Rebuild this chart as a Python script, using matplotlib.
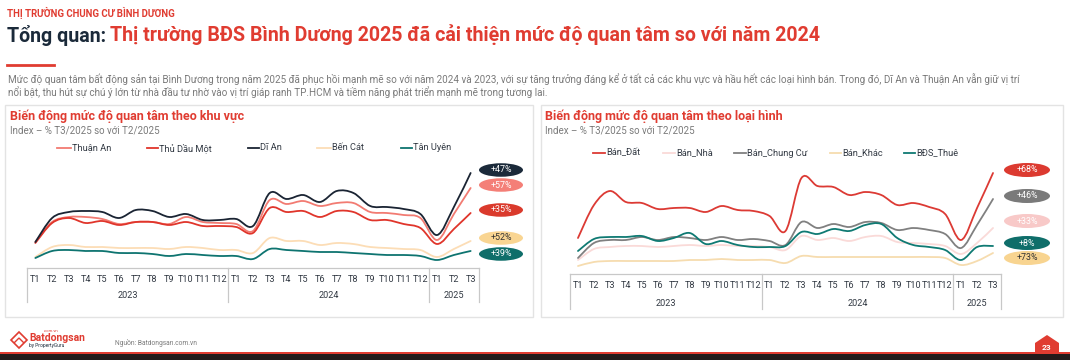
import numpy as np
import matplotlib.pyplot as plt
from matplotlib.path import Path
from matplotlib.patches import PathPatch, Ellipse, Rectangle, Polygon

plt.rcParams['font.family'] = ['Roboto', 'DejaVu Sans']

# ---- data -------------------------------------------------------------
months = ['T%d' % m for m in range(1, 13)] * 2 + ['T1', 'T2', 'T3']
years = ['2023', '2024', '2025']
year_sizes = [12, 12, 3]

# interest index by area (arbitrary index units)
area_names = ['Thuận An', 'Thủ Dầu Một', 'Dĩ An', 'Bến Cát', 'Tân Uyên']
thuan_an = [38, 58, 63, 63, 61, 56, 58, 58, 56, 63, 58, 57, 56, 49, 80, 76, 79, 74, 77, 77, 68, 67, 65, 62, 40, 66, 92]
thu_dau_mot = [37, 57, 62, 57, 59, 55, 58, 58, 55, 58, 54, 54, 53, 47, 72, 68, 69, 63, 69, 68, 60, 60, 56, 52, 36, 51, 67]
di_an = [38, 62, 68, 69, 68, 62, 70, 69, 63, 66, 60, 60, 61, 54, 87, 81, 85, 78, 89, 87, 74, 73, 71, 66, 45, 73, 107]
ben_cat = [23, 33, 35, 33, 33, 32, 32, 32, 31, 33, 32, 30, 30, 27, 42, 39, 39, 35, 37, 36, 33, 32, 31, 30, 23, 31, 39]
tan_uyen = [22, 29, 30, 29, 29, 27, 27, 26, 24, 26, 25, 24, 24, 21, 31, 30, 29, 28, 28, 27, 26, 25, 25, 24, 20, 25, 29]
area_changes = ['+57%', '+35%', '+47%', '+52%', '+39%']

# interest index by property type
type_names = ['Bán_Đất', 'Bán_Nhà', 'Bán_Chung Cư', 'Bán_Khác', 'BĐS_Thuê']
ban_dat = [42, 75, 89, 78, 77, 71, 72, 72, 68, 74, 70, 69, 64, 49, 102, 94, 93, 85, 88, 85, 75, 77, 73, 66, 40, 72, 107]
ban_nha = [20, 31, 33, 34, 34, 33, 34, 35, 34, 35, 34, 34, 33, 30, 44, 40, 42, 39, 43, 44, 38, 37, 36, 34, 26, 37, 52]
ban_chung_cu = [22, 37, 40, 40, 43, 40, 43, 42, 40, 43, 40, 41, 39, 35, 58, 52, 56, 53, 58, 57, 50, 52, 50, 46, 32, 55, 81]
ban_khac = [14, 18, 19, 19, 19, 19, 19, 20, 20, 21, 20, 20, 20, 17, 24, 23, 23, 23, 23, 23, 23, 23, 23, 22, 15, 19, 27]
bds_thue = [29, 41, 43, 43, 44, 39, 42, 47, 36, 39, 35, 33, 33, 34, 48, 46, 51, 49, 55, 56, 42, 35, 33, 30, 20, 33, 34]
type_changes = ['+68%', '+33%', '+46%', '+73%', '+8%']

# ---- figure -----------------------------------------------------------
W, H = 1070, 360
fig = plt.figure(figsize=(W / 100, H / 100), dpi=100)
bg = fig.add_axes([0, 0, 1, 1])
bg.set_xlim(0, W)
bg.set_ylim(H, 0)
bg.axis('off')

RED = '#E03C31'
NAVY = '#1B2A3A'
GRAY_TXT = '#7A7A7A'
DARK_TXT = '#333A44'


def smooth_path(xs, ys):
    pts = np.column_stack([xs, ys]).astype(float)
    n = len(pts)
    verts = [pts[0]]
    codes = [Path.MOVETO]
    for i in range(n - 1):
        p0 = pts[max(i - 1, 0)]
        p1 = pts[i]
        p2 = pts[i + 1]
        p3 = pts[min(i + 2, n - 1)]
        verts += [p1 + (p2 - p0) / 6, p2 - (p3 - p1) / 6, p2]
        codes += [Path.CURVE4] * 3
    return Path(verts, codes)


def draw_chart(left, right, top, bottom, ylim, series, colors, box_bottom, tick_y, year_y):
    ax = fig.add_axes([left / W, 1 - bottom / H, (right - left) / W, (bottom - top) / H])
    ax.set_xlim(-0.5, 26.5)
    ax.set_ylim(*ylim)
    ax.axis('off')
    x = np.arange(len(months))
    for vals, c in zip(series, colors):
        ax.add_patch(PathPatch(smooth_path(x, vals), fill=False, edgecolor=c,
                               lw=1.3, capstyle='round', joinstyle='round'))
    tr = ax.get_xaxis_transform()
    h = bottom - top

    def ay(ypix):
        return (bottom - ypix) / h

    # category box
    ax.plot([-0.5, 26.5], [0, 0], transform=tr, color='#C8C8C8', lw=0.9, clip_on=False)
    edges = np.concatenate([[0], np.cumsum(year_sizes)]) - 0.5
    for e in edges:
        ax.plot([e, e], [0, ay(box_bottom)], transform=tr, color='#C8C8C8', lw=0.9, clip_on=False)
    for i, m in enumerate(months):
        ax.text(i, ay(tick_y), m, transform=tr, ha='center', va='center',
                fontsize=6.6, color=DARK_TXT)
    for yr, a, b in zip(years, edges[:-1], edges[1:]):
        ax.text((a + b) / 2, ay(year_y), yr, transform=tr, ha='center', va='center',
                fontsize=6.6, color=DARK_TXT)
    return ax


# ---- header -----------------------------------------------------------
bg.text(7, 13, 'THỊ TRƯỜNG CHUNG CƯ BÌNH DƯƠNG', fontsize=6.9, fontweight='bold',
        color=RED, va='center')
bg.text(7, 35, 'Tổng quan:', fontsize=14.1, fontweight='bold', color=NAVY, va='center')
bg.text(110, 35, 'Thị trường BĐS Bình Dương 2025 đã cải thiện mức độ quan tâm so với năm 2024',
        fontsize=14.1, fontweight='bold', color=RED, va='center')
bg.plot([7, 54], [65, 65], color=RED, lw=2)
bg.text(8, 79, 'Mức độ quan tâm bất động sản tại Bình Dương trong năm 2025 đã phục hồi mạnh mẽ so với năm 2024 và 2023, '
        'với sự tăng trưởng đáng kể ở tất cả các khu vực và hầu hết các loại hình bán. Trong đó, Dĩ An và Thuận An vẫn giữ vị trí',
        fontsize=7.1, color=GRAY_TXT, va='center')
bg.text(8, 92, 'nổi bật, thu hút sự chú ý lớn từ nhà đầu tư nhờ vào vị trí giáp ranh TP.HCM và tiềm năng phát triển mạnh mẽ trong tương lai.',
        fontsize=7.1, color=GRAY_TXT, va='center')

# ---- panels -----------------------------------------------------------
for x0, x1 in [(5, 533), (541, 1063)]:
    bg.add_patch(Rectangle((x0, 105), x1 - x0, 212, fill=False, edgecolor='#E3E3E3', lw=1))

bg.text(10, 116, 'Biến động mức độ quan tâm theo khu vực', fontsize=9, fontweight='bold',
        color=RED, va='center')
bg.text(10, 130, 'Index – % T3/2025 so với T2/2025', fontsize=7, color=GRAY_TXT, va='center')
bg.text(545, 116, 'Biến động mức độ quan tâm theo loại hình', fontsize=9, fontweight='bold',
        color=RED, va='center')
bg.text(545, 130, 'Index – % T3/2025 so với T2/2025', fontsize=7, color=GRAY_TXT, va='center')

# left chart: by area
area_colors = ['#F27B72', '#E0352B', '#1A2433', '#FCDDB6', '#0E7470']
draw_chart(27, 479, 160, 268, (12, 120),
           [thuan_an, thu_dau_mot, di_an, ben_cat, tan_uyen], area_colors,
           box_bottom=302, tick_y=279, year_y=296)
legend_left = [(57, 72), (147, 159), (248, 260), (317, 332), (401, 413)]
for (lx, tx), name, c in zip(legend_left, area_names, area_colors):
    bg.plot([lx, tx - 1], [148, 148], color=c, lw=1.3)
    bg.text(tx, 148, name, fontsize=6.7, color=DARK_TXT, va='center')

area_pill = {'+47%': (170, '#1B2A3A', 'white'), '+57%': (185, '#F47F77', 'white'),
             '+35%': (210, '#DA3A2C', 'white'), '+52%': (238, '#F9D592', '#333333'),
             '+39%': (254, '#0F6E6A', 'white')}
for lab in area_changes:
    y, fc, tc = area_pill[lab]
    bg.add_patch(Ellipse((501, y), 44, 13.5, facecolor=fc, edgecolor='none'))
    bg.text(501, y, lab, fontsize=6.4, color=tc, ha='center', va='center')

# right chart: by property type
type_colors = ['#DC3A34', '#FADAD8', '#808080', '#F6DCAF', '#0F7A73']
draw_chart(570, 1001, 160, 274, (6, 120),
           [ban_dat, ban_nha, ban_chung_cu, ban_khac, bds_thue], type_colors,
           box_bottom=309, tick_y=285, year_y=303)
legend_right = [(593, 606), (663, 676), (734, 747), (830, 842), (904, 916)]
for (lx, tx), name, c in zip(legend_right, type_names, type_colors):
    bg.plot([lx, tx - 1], [153, 153], color=c, lw=1.3)
    bg.text(tx, 153, name, fontsize=6.7, color=DARK_TXT, va='center')

type_pill = {'+68%': (170, '#DC3A30', 'white'), '+46%': (196, '#7A7A7A', 'white'),
             '+33%': (221, '#F8C9C8', 'white'), '+8%': (243, '#0F6E6A', 'white'),
             '+73%': (258, '#F8D490', '#333333')}
for lab in type_changes:
    y, fc, tc = type_pill[lab]
    bg.add_patch(Ellipse((1027, y), 46, 14, facecolor=fc, edgecolor='none'))
    bg.text(1027, y, lab, fontsize=6.4, color=tc, ha='center', va='center')

# ---- footer -----------------------------------------------------------
bg.add_patch(Polygon([(11, 340), (19, 332), (27, 340), (19, 348)], closed=True,
                     fill=False, edgecolor=RED, lw=1.2))
bg.add_patch(Polygon([(14, 343), (19, 338), (24, 343)], closed=False,
                     fill=False, edgecolor=RED, lw=1))
bg.text(29, 338, 'Batdongsan', fontsize=7.5, fontweight='bold', color=RED, va='center')
bg.text(58, 331, '.com.vn', fontsize=3, color=RED, ha='right', va='center')
bg.text(29, 346, 'by PropertyGuru', fontsize=3.5, color=NAVY, va='center')
bg.text(115, 343, 'Nguồn: Batdongsan.com.vn', fontsize=4.8, color=GRAY_TXT, va='center')

bg.add_patch(Polygon([(1035, 353), (1035, 343), (1047, 335), (1059, 343), (1059, 353)],
                     closed=True, facecolor=RED, edgecolor='none'))
bg.text(1047, 347, '23', fontsize=6, fontweight='bold', color='white', ha='center', va='center')
bg.add_patch(Rectangle((0, 351.5), W, 2, facecolor=RED, edgecolor='none'))
bg.add_patch(Rectangle((0, 353.5), W, 7, facecolor='#231A1A', edgecolor='none'))

fig.savefig('out.png', dpi=100)
